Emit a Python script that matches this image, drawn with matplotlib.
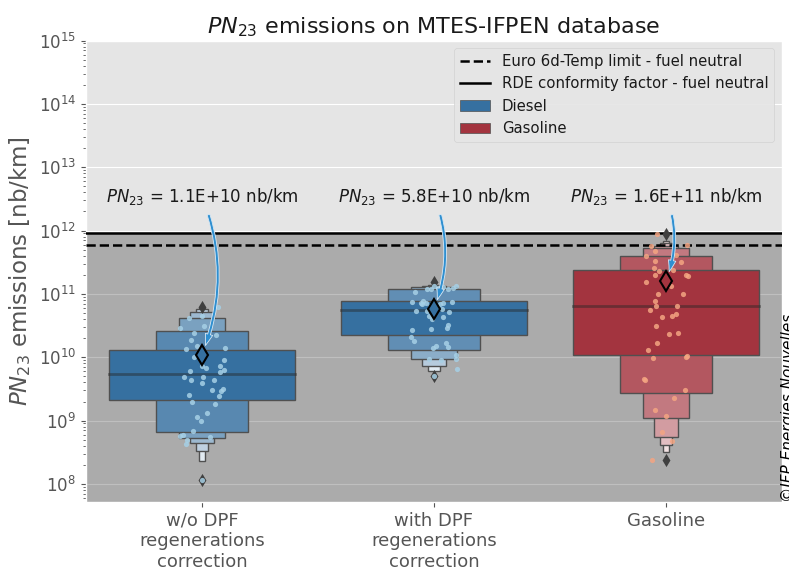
import numpy as np
import matplotlib
matplotlib.use("Agg")
import matplotlib.pyplot as plt
from matplotlib.lines import Line2D
from matplotlib.patches import Patch
from matplotlib.colors import to_rgb

# categories and fuel of each group
categories = ["w/o DPF\nregenerations\ncorrection", "with DPF\nregenerations\ncorrection", "Gasoline"]
fuels = ["Diesel", "Diesel", "Gasoline"]
means = [1.1e10, 5.8e10, 1.6e11]
medians = [5.35e9, 5.6e10, 6.5e10]

# letter value boxes (low, high), from the widest to the narrowest
boxes_wo_dpf = [(2.13e9, 1.28e10), (6.5e8, 2.6e10), (5.3e8, 4.1e10), (4.5e8, 5.1e10), (3.25e8, 5.8e10), (2.26e8, 6.0e10)]
boxes_with_dpf = [(2.24e10, 7.6e10), (1.3e10, 1.19e11), (9.3e9, 1.3e11), (7.3e9, 1.35e11), (6.1e9, 1.4e11)]
boxes_gasoline = [(1.1e10, 2.35e11), (2.75e9, 4.0e11), (1.09e9, 5.3e11), (5.6e8, 5.8e11), (4.15e8, 6.4e11), (3.2e8, 6.9e11)]

outliers_wo_dpf = [6.2e10, 1.16e8]
outliers_with_dpf = [1.53e11, 5.0e9]
outliers_gasoline = [8.8e11, 2.4e8]

# individual vehicles (value, jitter)
pts_wo_dpf = [6.3e10, 4.5e10, 4.1e10, 2.9e10, 3.07e10, 2.4e10, 2.26e10, 1.89e10, 1.52e10, 1.36e10,
              1.4e10, 1.0e10, 8.9e9, 7.3e9, 7.3e9, 6.7e9, 6.1e9, 6.35e9, 5.75e9, 4.9e9,
              4.9e9, 4.3e9, 4.3e9, 3.9e9, 3.07e9, 3.14e9, 2.88e9, 2.47e9, 2.56e9, 2.0e9,
              1.82e9, 1.34e9, 1.13e9, 1.0e9, 6.9e8, 5.97e8, 5.8e8, 5.5e8, 4.85e8, 4.3e8, 1.16e8]
jit_wo_dpf = [0.069, 0.0, -0.058, -0.094, 0.010, -0.036, 0.062, -0.047, -0.022, -0.068,
              0.098, -0.033, 0.093, 0.001, 0.076, 0.016, -0.053, 0.095, 0.079, -0.076,
              0.004, -0.046, 0.053, 0.0, 0.044, 0.090, 0.083, 0.072, -0.058, -0.042,
              0.056, 0.020, -0.023, -0.004, -0.039, -0.082, -0.094, 0.033, -0.065, -0.071, 0.0]

pts_with_dpf = [1.21e11, 1.19e11, 1.31e11, 1.24e11, 1.28e11, 1.19e11, 1.24e11, 1.31e11, 1.06e11, 7.4e10,
                7.3e10, 7.6e10, 7.2e10, 6.9e10, 6.9e10, 7.3e10, 7.5e10, 6.4e10, 6.5e10, 5.3e10,
                5.3e10, 5.75e10, 5.1e10, 4.4e10, 4.0e10, 4.3e10, 2.7e10, 2.8e10, 3.26e10, 2.9e10,
                2.1e10, 1.82e10, 1.68e10, 1.48e10, 1.4e10, 1.43e10, 9.4e9, 8.9e9, 1.09e10, 9.4e9,
                6.5e9, 5.0e9]
jit_with_dpf = [-0.031, -0.014, 0.0, 0.019, 0.040, 0.062, 0.080, 0.095, -0.082, -0.093,
                -0.057, -0.046, -0.034, -0.053, 0.026, 0.040, 0.079, -0.017, 0.011, -0.079,
                -0.031, 0.033, 0.065, -0.020, -0.010, 0.040, -0.096, -0.014, 0.059, 0.055,
                -0.100, -0.085, 0.050, 0.007, -0.003, 0.059, -0.020, 0.029, 0.095, 0.095,
                0.098, 0.0]

pts_gasoline = [8.8e11, 5.8e11, 4.7e11, 4.0e11, 4.06e11, 5.9e11, 3.3e11, 3.2e11, 2.6e11, 2.27e11,
                2.4e11, 2.0e11, 1.54e11, 2.0e11, 1.9e11, 1.31e11, 9.8e10, 9.95e10, 7.8e10, 6.5e10,
                6.5e10, 5.6e10, 4.8e10, 4.4e10, 4.25e10, 3.15e10, 2.3e10, 2.38e10, 1.68e10, 1.31e10,
                9.8e9, 1.0e10, 1.03e10, 4.5e9, 4.4e9, 3.07e9, 2.26e9, 1.48e9, 1.19e9, 6.6e8,
                4.8e8, 2.4e8]
jit_gasoline = [-0.037, -0.063, -0.045, -0.085, 0.042, 0.091, -0.047, 0.065, -0.050, -0.030,
                0.032, -0.045, -0.085, 0.088, 0.095, 0.024, -0.036, 0.073, -0.047, -0.042,
                0.047, -0.068, 0.042, 0.027, -0.016, -0.042, 0.014, 0.053, -0.037, -0.079,
                -0.056, 0.085, 0.093, -0.093, -0.091, 0.082, 0.036, -0.047, 0.0, -0.019,
                0.027, -0.062]

euro6_limit = 6e11
rde_limit = 9e11

all_boxes = [boxes_wo_dpf, boxes_with_dpf, boxes_gasoline]
all_outliers = [outliers_wo_dpf, outliers_with_dpf, outliers_gasoline]
all_pts = [pts_wo_dpf, pts_with_dpf, pts_gasoline]
all_jit = [jit_wo_dpf, jit_with_dpf, jit_gasoline]

fuel_colors = {"Diesel": "#3670a0", "Gasoline": "#a3343f"}
strip_colors = {"Diesel": "#a6d0e6", "Gasoline": "#f4a582"}

plt.style.use("ggplot")
fig = plt.figure(figsize=(7.89, 5.71), dpi=100)
ax = fig.add_axes([0.109, 0.121, 0.882, 0.808])
ax.set_yscale("log")

ax.axhspan(1e7, rde_limit, color="black", alpha=0.25, lw=0)
ax.axhline(euro6_limit, color="black", ls="--", lw=1.8, zorder=3)
ax.axhline(rde_limit, color="black", ls="-", lw=1.8, zorder=3)

for i, (boxes, outl, pts, jit, fuel) in enumerate(zip(all_boxes, all_outliers, all_pts, all_jit, fuels)):
    base = np.array(to_rgb(fuel_colors[fuel]))
    n = len(boxes)
    for k in range(n - 1, -1, -1):
        lo, hi = boxes[k]
        t = 0.85 * k / (n - 1)
        c = base * (1 - t) + t
        ax.bar(i, hi - lo, bottom=lo, width=0.8 * 0.5 ** k, color=c, edgecolor="#505050", lw=1, zorder=2)
    ax.plot([i - 0.4, i + 0.4], [medians[i], medians[i]], color=".15", alpha=0.45, lw=2, zorder=3)
    ax.scatter([i] * len(outl), outl, marker="d", s=45, color=".25", lw=0, zorder=3)
    ax.scatter(i + np.array(jit), pts, s=14, color=strip_colors[fuel], alpha=0.85, lw=0, zorder=4)
    ax.plot(i, means[i], marker="d", ms=10.5, mfc=fuel_colors[fuel], mec="black", mew=1.5, zorder=6)
    ax.annotate("$PN_{23}$ = %.1E nb/km" % means[i], xy=(i, means[i]), xytext=(i, 3.5e12),
                ha="center", va="center", fontsize=12, color="#1a1a1a", zorder=7,
                arrowprops=dict(arrowstyle="simple,head_length=0.7,head_width=0.45,tail_width=0.17",
                                connectionstyle="arc3,rad=-0.2", fc="#2f8fd0", ec="#d8e8f4",
                                lw=0.6, shrinkA=4, shrinkB=7))

ax.set_xlim(-0.5, 2.5)
ax.set_ylim(5.2e7, 1e15)
ax.set_xticks(range(len(categories)))
ax.set_xticklabels(categories, fontsize=13, color="#555555")
ax.tick_params(axis="y", labelsize=12, labelcolor="#555555")
ax.grid(False, axis="x")
ax.set_ylabel("$PN_{23}$ emissions [nb/km]", fontsize=16.5, color="#555555")
ax.set_title("$PN_{23}$ emissions on MTES-IFPEN database", fontsize=16, color="#1a1a1a", pad=5)

handles = [Line2D([], [], color="black", ls="--", lw=1.8),
           Line2D([], [], color="black", ls="-", lw=1.8),
           Patch(facecolor=fuel_colors["Diesel"], edgecolor="#505050"),
           Patch(facecolor=fuel_colors["Gasoline"], edgecolor="#505050")]
labels = ["Euro 6d-Temp limit - fuel neutral", "RDE conformity factor - fuel neutral", "Diesel", "Gasoline"]
leg = ax.legend(handles, labels, loc="upper right", fontsize=10.7, facecolor="#e5e5e5",
                edgecolor="#d0d0d0", framealpha=0.9)
for t in leg.get_texts():
    t.set_color("#1a1a1a")

fig.text(0.999, 0.121, "©IFP Energies Nouvelles", rotation=90, style="italic", fontsize=11,
         ha="center", va="bottom")

fig.savefig("out.png", dpi=100)
